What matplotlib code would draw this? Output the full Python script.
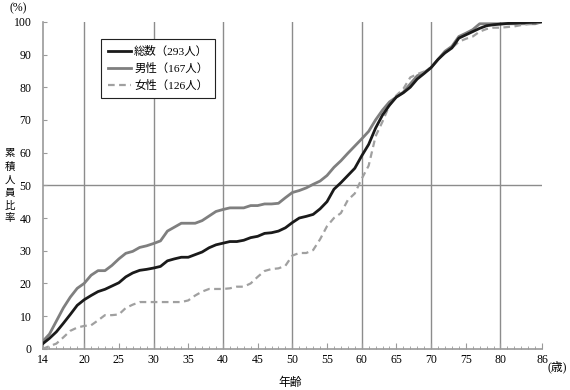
import numpy as np
import matplotlib
matplotlib.use('Agg')
import matplotlib.pyplot as plt
from matplotlib.ticker import MultipleLocator

plt.rcParams['font.family'] = ['Liberation Serif', 'Noto Sans CJK JP']

# ages 14..86
ages = list(range(14, 87))

total = [1.5, 3.2, 5.2, 7.8, 10.5, 13.3, 15.0, 16.3, 17.5, 18.2,
         19.2, 20.2, 22.0, 23.2, 24.0, 24.3, 24.7, 25.2, 26.9, 27.5,
         28.0, 28.0, 28.8, 29.6, 30.9, 31.8, 32.3, 32.8, 32.8, 33.2,
         34.0, 34.4, 35.3, 35.5, 36.0, 37.0, 38.6, 40.0, 40.5, 41.1,
         42.8, 45.0, 48.8, 50.8, 53.0, 55.2, 59.0, 62.5, 67.5, 71.5,
         74.5, 77.0, 78.3, 80.0, 82.5, 84.2, 86.0, 88.5, 90.5, 92.0,
         95.0, 96.0, 97.0, 98.0, 98.8, 99.1, 99.3, 99.5, 99.6, 99.7,
         99.8, 99.9, 100.0]

male = [2.2, 4.5, 8.5, 12.5, 15.8, 18.5, 20.0, 22.5, 23.9, 23.9,
        25.5, 27.5, 29.2, 29.8, 31.0, 31.5, 32.2, 33.0, 36.0, 37.2,
        38.4, 38.4, 38.4, 39.2, 40.6, 42.0, 42.6, 43.1, 43.1, 43.1,
        43.8, 43.8, 44.3, 44.3, 44.5, 46.2, 47.8, 48.4, 49.2, 50.3,
        51.3, 53.0, 55.5, 57.5, 59.8, 62.0, 64.2, 66.5, 70.0, 73.0,
        75.5, 77.0, 78.5, 81.0, 83.5, 84.5, 86.0, 88.5, 91.0, 92.5,
        95.5, 96.5, 97.6, 99.4, 99.4, 99.4, 99.4, 99.4, 99.4, 99.4,
        99.4, 99.4, 100.0]

female = [0.0, 0.8, 1.6, 3.5, 5.5, 6.5, 7.0, 7.2, 8.7, 10.3,
          10.3, 10.5, 12.5, 13.5, 14.3, 14.3, 14.3, 14.3, 14.3, 14.3,
          14.3, 14.8, 16.3, 17.5, 18.3, 18.3, 18.3, 18.5, 19.0, 19.0,
          20.0, 22.0, 23.8, 24.4, 24.6, 25.4, 28.5, 29.3, 29.3, 30.2,
          33.5, 37.5, 40.0, 41.5, 45.5, 47.5, 52.0, 56.0, 65.0, 69.5,
          74.5, 77.5, 79.5, 83.0, 84.0, 84.8, 86.0, 88.5, 90.5, 92.0,
          93.9, 94.8, 95.5, 97.0, 97.8, 98.2, 98.2, 98.4, 98.6, 99.0,
          99.3, 99.5, 100.0]

labels = ['総数（293人）', '男性（167人）', '女性（126人）']
x_ticks = [14, 20, 25, 30, 35, 40, 45, 50, 55, 60, 65, 70, 75, 80, 86]
ylabel_chars = '累積人員比率'


def main():
    fig = plt.figure(figsize=(5.7, 3.9), dpi=100)
    ax = fig.add_axes([0.0746, 0.1056, 0.8765, 0.8385])

    grid_c = '#8c8c8c'
    for gx in range(20, 81, 10):
        ax.axvline(gx, color=grid_c, lw=1.0, zorder=1)
    ax.axhline(50, color=grid_c, lw=1.0, zorder=1)

    ax.plot(ages, total, color='#1a1a1a', lw=2.0, label=labels[0], zorder=4)
    ax.plot(ages, male, color='#7f7f7f', lw=2.0, label=labels[1], zorder=3)
    ax.plot(ages, female, color='#a0a0a0', lw=1.6, ls=(0, (3, 2)),
            label=labels[2], zorder=3)

    ax.set_xlim(14, 86)
    ax.set_ylim(0, 100)
    for s in ['top', 'right']:
        ax.spines[s].set_visible(False)
    for s in ['left', 'bottom']:
        ax.spines[s].set_color('#9a9a9a')
        ax.spines[s].set_linewidth(1.2)

    ax.set_xticks(x_ticks)
    ax.xaxis.set_minor_locator(MultipleLocator(1))
    ax.yaxis.set_major_locator(MultipleLocator(10))
    ax.tick_params(axis='x', which='major', direction='in', length=4,
                   color='#9a9a9a', labelsize=8.5, pad=4)
    ax.tick_params(axis='x', which='minor', direction='in', length=2,
                   color='#9a9a9a')
    ax.tick_params(axis='y', which='major', direction='in', length=3,
                   color='#9a9a9a', labelsize=8.5, pad=8)

    leg = ax.legend(loc='upper left', bbox_to_anchor=(0.106, 0.966),
                    fontsize=8.2, handlelength=2.0, handletextpad=0.3,
                    borderpad=0.6, labelspacing=0.55, fancybox=False,
                    framealpha=1)
    leg.get_frame().set_edgecolor('#222222')
    leg.get_frame().set_linewidth(0.8)

    fig.text(18 / 570, 1 - 8 / 390, '(%)', fontsize=8.5, ha='center', va='center')
    fig.text(557 / 570, 1 - 367 / 390, '(歳)', fontsize=8.5, ha='center', va='center')
    fig.text(290 / 570, 1 - 383 / 390, '年齢', fontsize=8.5, ha='center', va='center')
    # vertical label, one character per row
    n = len(ylabel_chars)
    for i, ch in enumerate(ylabel_chars):
        yp = 186 + (i - (n - 1) / 2) * 13
        fig.text(10 / 570, 1 - yp / 390, ch, fontsize=7.5,
                 family='Noto Sans CJK JP', ha='center', va='center')

    fig.savefig('out.png', dpi=100)


if __name__ == "__main__":
    main()
